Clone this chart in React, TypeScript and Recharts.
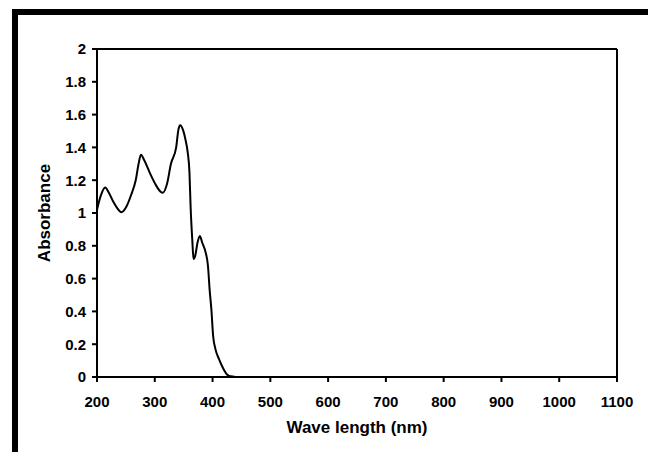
import { LineChart, Line, XAxis, YAxis, ReferenceLine, Label } from "recharts";

// wavelength (nm) and absorbance
const wavelengths = [
  200, 207, 214, 221, 228, 235, 242, 251, 259, 267, 272, 276, 282, 292, 302,
  310, 314, 321, 328, 337, 341, 344, 349, 353, 357, 360, 362, 365, 367, 370,
  374, 378, 382, 388, 392, 395, 398, 401, 405, 411, 418, 425, 431, 440,
];
const absorbance = [
  1.02, 1.11, 1.155, 1.12, 1.07, 1.03, 1.005, 1.04, 1.11, 1.2, 1.3, 1.355,
  1.32, 1.24, 1.17, 1.13, 1.124, 1.175, 1.3, 1.4, 1.51, 1.535, 1.505, 1.45,
  1.37, 1.25, 1.04, 0.83, 0.72, 0.74, 0.82, 0.86, 0.82, 0.76, 0.68, 0.53, 0.41,
  0.25, 0.17, 0.11, 0.055, 0.015, 0.004, 0,
];
const xTicks = [200, 300, 400, 500, 600, 700, 800, 900, 1000, 1100];
const yTicks = [0, 0.2, 0.4, 0.6, 0.8, 1, 1.2, 1.4, 1.6, 1.8, 2];

const data = wavelengths.map((w, i) => ({ w, a: absorbance[i] }));

const font = "'Liberation Sans', Arial, sans-serif";
const tickStyle = { fill: "#000", fontSize: 15, fontWeight: 700, fontFamily: font };
const titleStyle = { fill: "#000", fontSize: 17, fontWeight: 700, fontFamily: font };

export default function App() {
  return (
    <div
      style={{
        position: "absolute",
        left: 0,
        top: 0,
        width: 648,
        height: 452,
        background: "#fff",
        overflow: "hidden",
      }}
    >
      <div
        style={{
          position: "absolute",
          left: 12,
          top: 9,
          width: 700,
          height: 500,
          borderTop: "6px solid #000",
          borderLeft: "6px solid #000",
        }}
      />
      <div style={{ position: "absolute", left: 0, top: 0 }}>
        <LineChart
          width={648}
          height={452}
          data={data}
          margin={{ top: 49, right: 31, bottom: 15, left: 37 }}
        >
          <XAxis
            dataKey="w"
            type="number"
            domain={[200, 1100]}
            ticks={xTicks}
            interval={0}
            stroke="#000"
            strokeWidth={2}
            tickSize={5}
            tickMargin={14}
            tick={tickStyle}
            height={60}
          >
            <Label
              value="Wave length (nm)"
              position="insideBottom"
              offset={4}
              style={titleStyle}
            />
          </XAxis>
          <YAxis
            type="number"
            domain={[0, 2]}
            ticks={yTicks}
            interval={0}
            stroke="#000"
            strokeWidth={2}
            tickSize={5}
            tickMargin={6}
            tick={tickStyle}
            width={60}
          >
            <Label
              value="Absorbance"
              angle={-90}
              position="insideLeft"
              offset={7}
              style={{ ...titleStyle, textAnchor: "middle" }}
            />
          </YAxis>
          <ReferenceLine y={2} stroke="#000" strokeWidth={2} />
          <ReferenceLine x={1100} stroke="#000" strokeWidth={2} />
          <Line
            dataKey="a"
            type="monotone"
            stroke="#000"
            strokeWidth={2}
            dot={false}
            isAnimationActive={false}
          />
        </LineChart>
      </div>
    </div>
  );
}
